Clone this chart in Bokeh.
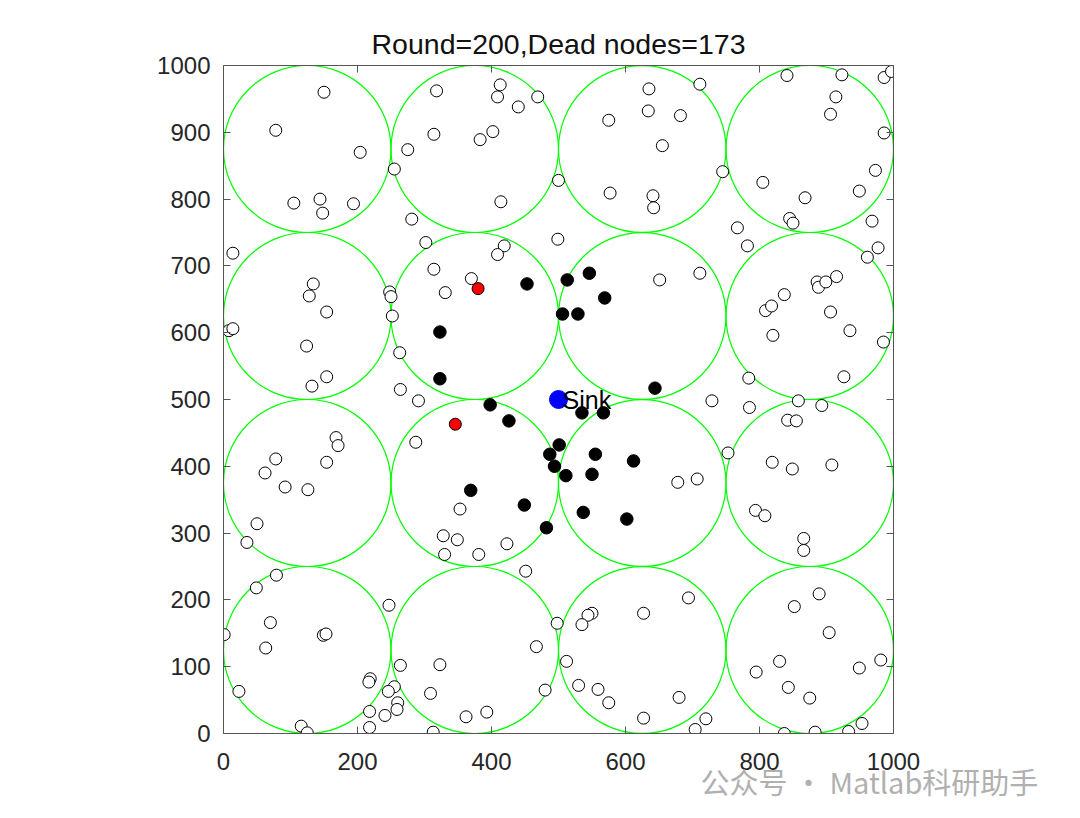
from bokeh.plotting import figure
from bokeh.models import LinearAxis, Range1d, FixedTicker, Title
from bokeh.core.properties import value
from bokeh.embed import file_html
from bokeh.resources import INLINE

# ---------------- data ----------------
title_text = "Round=200,Dead nodes=173"

dead_x = [150, 78, 204, 105, 144, 148, 194, 255, 318, 413, 409, 440, 469, 314, 383, 402, 275, 414, 500, 281,
          302, 419, 409, 499, 14, 314, 370, 331, 248, 250, 252, 134, 128, 154, 8, 14, 124, 154, 132, 263, 264,
          635, 711, 575, 634, 682, 655, 745, 577, 641, 642, 651, 711, 767, 782, 841, 923, 986, 997, 914, 906,
          986, 973, 805, 868, 949, 845, 850, 968, 977, 961, 886, 888, 899, 915, 837, 809, 818, 906, 820, 935,
          985, 784, 926,
          291, 168, 171, 78, 154, 62, 92, 126, 50, 35, 287, 353, 328, 349, 330, 381, 423, 451, 79, 49, 247, 70,
          1, 149, 153, 63, 23, 116, 125, 264, 219, 217, 255, 246, 260, 259, 241, 218, 218, 313, 323, 309, 362,
          393, 467, 480, 498,
          729, 785, 858, 893, 842, 855, 753, 819, 849, 908, 678, 707, 794, 808, 866, 866, 694, 627, 550, 544,
          535, 512, 530, 559, 575, 627, 680, 720, 704, 889, 852, 904, 830, 795, 843, 875, 949, 981, 953, 933,
          883, 837]
dead_y = [960, 903, 870, 794, 800, 779, 793, 845, 962, 971, 953, 938, 953, 897, 889, 901, 874, 796, 828, 770,
          735, 730, 717, 740, 719, 695, 681, 660, 661, 654, 625, 673, 655, 631, 603, 606, 580, 534, 520, 570, 515,
          965, 972, 918, 932, 925, 880, 841, 809, 805, 787, 679, 689, 757, 730, 985, 986, 982, 991, 953, 927,
          899, 843, 825, 802, 812, 771, 764, 767, 727, 713, 676, 668, 676, 684, 657, 633, 640, 631, 596, 603,
          586, 532, 534,
          498, 443, 431, 411, 406, 390, 369, 365, 314, 286, 436, 336, 296, 290, 268, 268, 284, 243, 237, 218, 192,
          166, 148, 147, 149, 128, 63, 11, 1, 102, 82, 77, 70, 63, 46, 36, 27, 33, 9, 2, 103, 60, 25,
          32, 130, 65, 165,
          498, 488, 498, 491, 469, 468, 420, 406, 396, 402, 376, 381, 334, 326, 292, 274, 203, 180, 180, 177,
          163, 108, 72, 66, 46, 23, 54, 22, 6, 209, 190, 151, 108, 92, 69, 53, 98, 110, 15, 3,
          2, 0]

alive_x = [453, 323, 323, 513, 546, 569, 506, 529, 644, 398, 426, 487, 494, 369, 449, 482, 535, 567, 501, 555,
           612, 511, 550, 537, 602]
alive_y = [673, 601, 531, 679, 689, 652, 628, 628, 517, 492, 468, 418, 400, 364, 342, 308, 480, 480, 432, 418,
           408, 386, 388, 331, 321]

head_x = [380, 346]
head_y = [666, 463]

sink_x = [500]
sink_y = [500]
sink_label = ["Sink"]

field_size = 1000
grid_n = 4
x_ticks = [0, 200, 400, 600, 800, 1000]
y_ticks = [0, 100, 200, 300, 400, 500, 600, 700, 800, 900, 1000]
watermark = "公众号 · Matlab科研助手"

cell = field_size / grid_n
cluster_cx = [cell / 2 + cell * i for i in range(grid_n) for j in range(grid_n)]
cluster_cy = [cell / 2 + cell * j for i in range(grid_n) for j in range(grid_n)]

# ---------------- figure ----------------
FONT = "Liberation Sans"
TXT = "#262626"
AX = "#555555"

p = figure(frame_width=670, frame_height=668,
           min_border_left=223, min_border_right=171, min_border_top=65, min_border_bottom=77,
           x_range=Range1d(0, field_size), y_range=Range1d(0, field_size),
           output_backend="svg", toolbar_location=None)
p.background_fill_color = "white"
p.border_fill_color = "white"
p.outline_line_color = None
p.xgrid.visible = False
p.ygrid.visible = False

p.title.text = title_text
p.title.align = "center"
p.title.text_font = FONT
p.title.text_font_size = "28.5px"
p.title.text_font_style = "normal"
p.title.text_color = "#111111"
p.title.standoff = 12


def style_axis(ax, ticks, labels=True):
    ax.ticker = FixedTicker(ticks=ticks)
    ax.axis_line_color = AX
    ax.axis_line_width = 1
    ax.major_tick_line_color = AX
    ax.major_tick_in = 7
    ax.major_tick_out = 0
    ax.minor_tick_line_color = None
    ax.major_label_text_font = FONT
    if labels:
        ax.major_label_text_color = TXT
        ax.major_label_text_font_size = "24px"
        ax.major_label_standoff = 13
    else:
        ax.major_label_text_color = None
        ax.major_label_text_font_size = "1px"
        ax.major_label_standoff = 0


style_axis(p.xaxis[0], x_ticks)
style_axis(p.yaxis[0], y_ticks)
p.xaxis[0].major_label_standoff = 19
top_axis = LinearAxis()
style_axis(top_axis, x_ticks, labels=False)
p.add_layout(top_axis, "above")
right_axis = LinearAxis()
style_axis(right_axis, y_ticks, labels=False)
p.add_layout(right_axis, "right")

# cluster circles
p.ellipse(x=cluster_cx, y=cluster_cy, width=cell, height=cell,
          fill_color=None, line_color="#00ff00", line_width=1.2)

# nodes
p.scatter(x=dead_x, y=dead_y, size=12, marker="circle",
          fill_color="white", line_color="black", line_width=1)
p.scatter(x=alive_x, y=alive_y, size=12.5, marker="circle",
          fill_color="black", line_color="black", line_width=1)
p.scatter(x=head_x, y=head_y, size=12, marker="circle",
          fill_color="red", line_color="black", line_width=1)
p.scatter(x=sink_x, y=sink_y, size=18, marker="circle",
          fill_color="blue", line_color="blue", line_width=1)
p.text(x=sink_x, y=sink_y, text=sink_label, text_font=value(FONT), text_font_size="25px",
       text_color="black", text_baseline="middle", text_align="left", x_offset=4)

wm = Title(text=watermark, align="left", offset=477, text_font="Noto Sans CJK SC",
           text_font_size="29px", text_font_style="normal", text_color="#b0b0b0", standoff=-30)
p.add_layout(wm, "below")

open("out.html", "w").write(file_html(p, INLINE))
